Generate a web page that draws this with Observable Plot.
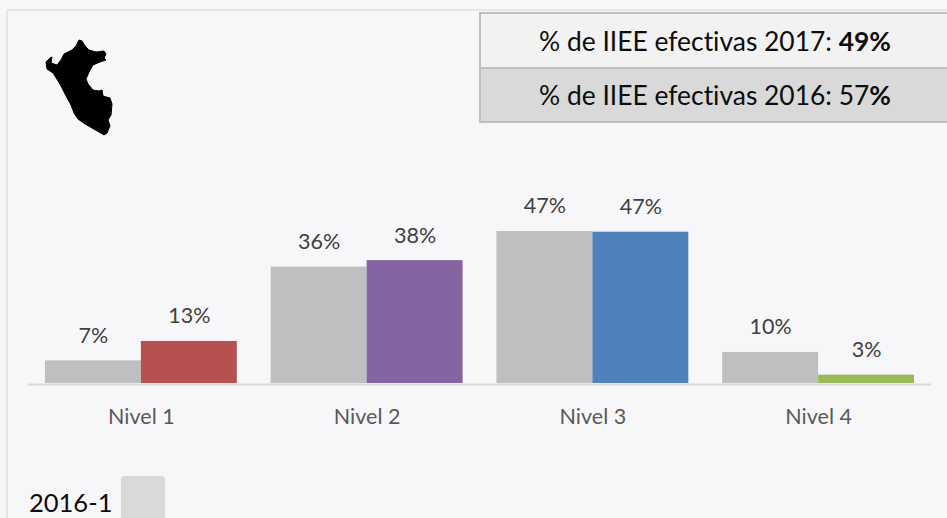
<!DOCTYPE html>
<html lang="es">
<head>
<meta charset="utf-8">
<script src="https://cdn.jsdelivr.net/npm/d3@7"></script>
<script src="https://cdn.jsdelivr.net/npm/@observablehq/plot@0.6"></script>
<style>
  html, body { margin: 0; padding: 0; background: #f7f7fa; overflow: hidden; }
  #page { position: relative; width: 947px; height: 518px; font-family: Lato, "Open Sans", sans-serif; font-variant-ligatures: none; }
  #frame { position: absolute; left: 6px; top: 9px; right: -4px; bottom: -4px; border: 2px solid #e6e6e8; box-sizing: border-box; }
  #map { position: absolute; left: 0; top: 0; }
  .row { position: absolute; left: 479px; width: 472px; box-sizing: border-box; border: 2px solid #bfbfbf;
         color: #0d0d0d; font-size: 26.4px; display: flex; align-items: center; justify-content: center; }
  #r1 { top: 12px; height: 57px; background: #f2f2f2; }
  #r2 { top: 67px; height: 56px; background: #d9d9d9; }
  #legend { position: absolute; left: 29px; top: 481px; height: 42px; display: flex; align-items: center; font-size: 25.5px; color: #0d0d0d; }
  #swatch { position: absolute; left: 121px; top: 476px; width: 44px; height: 50px; background: #d9d9d9; border-radius: 3px; }
  #chart { position: absolute; left: 0; top: 0; }
  #chart svg { font-variant-ligatures: none; }
</style>
</head>
<body>
<div id="page">
  <div id="frame"></div>
  <div id="chart"></div>
  <svg id="map" width="947" height="518"><path fill="#000" stroke="#000" stroke-width="1" stroke-linejoin="round" d="M79 40 L82 41 L85 46 L89 50 L96 52 L104 51 L106 54 L104 58 L106 60 L100 62 L93 65 L90 70 L86 79 L88 84 L93 90 L99 91 L102 90 L103 96 L110 98 L112 104 L111 115 L108 120 L110 126 L107 133 L104 135 L99 132 L92 128 L85 124 L78 119 L74 113 L71 105 L65 94 L60 84 L53 73 L47 69 L46 62 L50 58 L52 57 L51 63 L57 65 L61 60 L64 54 L72 50 L76 46 Z"/></svg>
  <div class="row" id="r1"><span>% de IIEE efectivas 2017: <b>49%</b></span></div>
  <div class="row" id="r2"><span>% de IIEE efectivas 2016: 57<b>%</b></span></div>
  <div id="legend">2016-1</div>
  <div id="swatch"></div>
</div>
<script>
const levels = ["Nivel 1", "Nivel 2", "Nivel 3", "Nivel 4"];
const values2016 = [7, 36, 47, 9.6];
const values2017 = [13, 38, 46.8, 2.6];
const labels2016 = ["7%", "36%", "47%", "10%"];
const labels2017 = ["13%", "38%", "47%", "3%"];
const colors2017 = ["#b7514f", "#8464a1", "#4f81bd", "#9bbb59"];
const gray2016 = "#bfbfbf";

const rows = levels.flatMap((level, i) => [
  {level, year: "2016", value: values2016[i], label: labels2016[i], color: gray2016},
  {level, year: "2017", value: values2017[i], label: labels2017[i], color: colors2017[i]}
]);

const chart = Plot.plot({
  width: 947,
  height: 518,
  marginLeft: 28,
  marginRight: 16,
  marginTop: 189,
  marginBottom: 135,
  style: {fontFamily: "Lato, 'Open Sans', sans-serif", background: "transparent"},
  fx: {domain: levels, paddingInner: 0.15, paddingOuter: 0.075, round: false, label: null},
  x: {domain: ["2016", "2017"], padding: 0, round: false, axis: null, label: null},
  y: {domain: [0, 60], axis: null, label: null},
  color: {type: "identity"},
  marks: [
    Plot.barY(rows, {fx: "level", x: "year", y: "value", fill: "color"}),
    Plot.ruleY([0], {stroke: "#d9d9d9", strokeWidth: 2, dy: 1, insetLeft: -17, insetRight: -17}),
    Plot.text(rows, {fx: "level", x: "year", y: "value", text: "label", dy: -25, fontSize: 21.5, fill: "#404040", lineAnchor: "middle"}),
    Plot.axisFx({anchor: "bottom", tickSize: 0, tickPadding: 25, fontSize: 21.5, fill: "#595959", label: null})
  ]
});
document.getElementById("chart").appendChild(chart);
</script>
</body>
</html>
